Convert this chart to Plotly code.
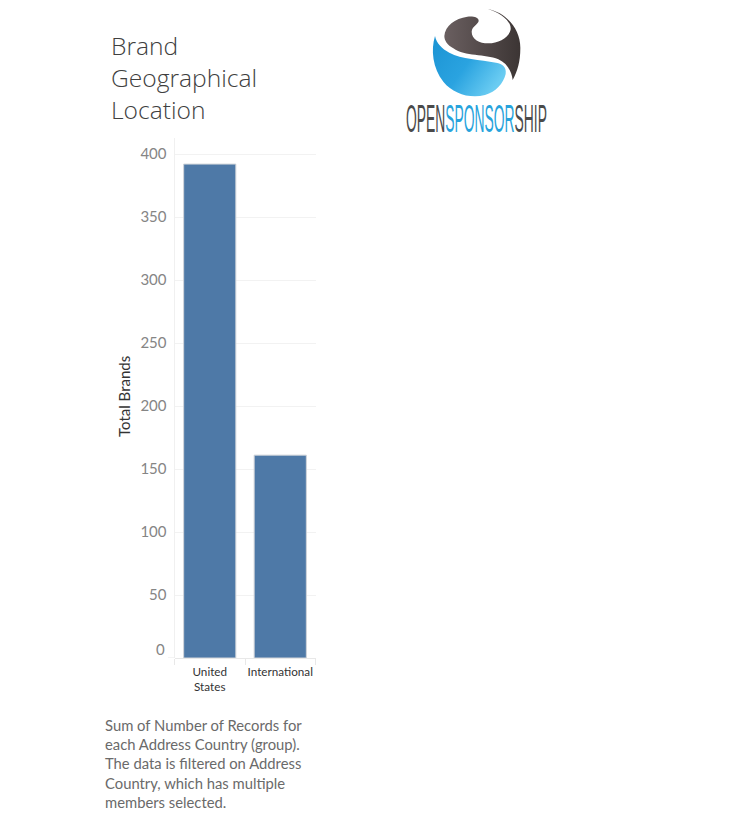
import base64
import plotly.graph_objects as go

categories = ["United<br>States", "International"]
total_brands = [392, 161]
y_ticks = [50, 100, 150, 200, 250, 300, 350, 400]
title_text = "Brand<br>Geographical<br>Location"
axis_title = "Total Brands"
caption = ("Sum of Number of Records for<br>each Address Country (group).<br>"
           "The data is filtered on Address<br>Country, which has multiple<br>members selected.")

W, H = 736, 838
FONT = "Lato, 'Open Sans', sans-serif"

logo_svg = """<svg xmlns="http://www.w3.org/2000/svg" viewBox="0 0 510 300" width="510" height="300">
<defs>
<linearGradient id="b" x1="0" y1="0" x2="1" y2="0.6"><stop offset="0" stop-color="#1b93d3"/><stop offset="0.55" stop-color="#2aa3e0"/><stop offset="1" stop-color="#6accf2"/></linearGradient>
<linearGradient id="d" x1="0" y1="0" x2="1" y2="0"><stop offset="0" stop-color="#6a5f60"/><stop offset="1" stop-color="#3c3534"/></linearGradient>
</defs>
<path fill="url(#b)" d="M135 108 C122 150 128 205 160 245 C190 282 240 296 285 285 C318 276 340 250 347 222 C350 200 338 192 318 188 C270 178 215 178 178 158 C155 146 140 130 135 108 Z"/>
<path fill="url(#d)" d="M163 108 C165 78 195 55 232 50 C250 48 266 52 266 62 C266 72 246 78 245 95 C245 118 268 130 295 130 C325 130 358 112 362 88 C364 62 330 38 293 27 C345 36 392 85 391 145 C391 185 382 215 368 240 C365 215 352 190 325 178 C285 162 225 170 190 145 C172 135 163 122 163 108 Z"/>
</svg>"""
logo_src = "data:image/svg+xml;base64," + base64.b64encode(logo_svg.encode()).decode()

fig = go.Figure(
    go.Bar(
        x=categories,
        y=total_brands,
        width=0.74,
        marker=dict(color="#4e79a7", line=dict(color="#d0d4d9", width=1)),
        hoverinfo="x+y",
    )
)

fig.update_layout(
    width=W,
    height=H,
    margin=dict(l=0, r=0, t=0, b=0, autoexpand=False),
    paper_bgcolor="white",
    plot_bgcolor="white",
    showlegend=False,
    font=dict(family=FONT, color="#666666"),
    xaxis=dict(
        domain=[174.5 / W, 315.5 / W],
        automargin=False,
        tickangle=0,
        tickson="boundaries",
        ticks="outside",
        ticklen=6,
        tickcolor="#e8e8e8",
        ticklabelstandoff=5,
        showgrid=False,
        showline=False,
        tickfont=dict(size=11.7, color="#333333", family=FONT),
    ),
    yaxis=dict(
        domain=[1 - 658 / H, 1 - 138 / H],
        automargin=False,
        range=[0, 520 / 1.26],
        tickvals=y_ticks,
        ticks="",
        ticklen=0,
        ticklabelstandoff=4,
        showgrid=True,
        gridcolor="#f2f2f2",
        gridwidth=1,
        zeroline=True,
        zerolinecolor="#e8e8e8",
        zerolinewidth=1,
        showline=True,
        linecolor="#f0f0f0",
        linewidth=1,
        tickfont=dict(size=15, color="#858585", family=FONT),
    ),
    shapes=[dict(type="line", xref="paper", yref="y", x0=168 / W, x1=174.5 / W, y0=0, y1=0,
                 line=dict(color="#e8e8e8", width=1))],
    images=[dict(source=logo_src, xref="paper", yref="paper", x=390 / W, y=1, sizex=170 / W,
                 sizey=100 / H, xanchor="left", yanchor="top", sizing="stretch", layer="above")],
    annotations=[
        dict(text="0", xref="paper", yref="y", x=166.5 / W, y=0, xanchor="right", yanchor="middle",
             yshift=9, showarrow=False, font=dict(size=15, color="#858585", family=FONT)),
        dict(text=axis_title, xref="paper", yref="paper", x=124 / W, y=1 - 397 / H, xanchor="center",
             yanchor="middle", textangle=-90, showarrow=False,
             font=dict(size=15, color="#333333", family=FONT)),
        dict(text=title_text, xref="paper", yref="paper", x=108.5 / W, y=1 - 27 / H, xanchor="left",
             yanchor="top", align="left", showarrow=False,
             font=dict(size=24.6, color="#3f3f3f", family="'Open Sans', Lato, sans-serif", weight=300)),
        dict(text=caption, xref="paper", yref="paper", x=103 / W, y=1 - 714 / H, xanchor="left",
             yanchor="top", align="left", showarrow=False,
             font=dict(size=14.8, color="#6a6a6a", family=FONT)),
        dict(text="<span style='color:#4a4a4a'>OPEN</span><span style='color:#27a3dc'>SPONSOR</span>"
                  "<span style='color:#4a4a4a'>SHIP</span>",
             xref="paper", yref="paper", x=404 / W, y=1 - 119 / H, xanchor="left", yanchor="middle",
             align="left", showarrow=False, name="wordmark",
             font=dict(size=38, family="'Liberation Sans Narrow', 'Liberation Sans', sans-serif")),
    ],
)

post = """
document.body.style.margin='0';
var squeeze=function(){
 document.querySelectorAll('.annotation-text').forEach(function(t){
  if(t.textContent.indexOf('OPENSPONSOR')<0) return;
  t.removeAttribute('transform');
  var b=t.getBBox(); var s=141/b.width;
  t.setAttribute('transform','translate('+b.x+',0) scale('+s+',1) translate('+(-b.x)+',0)');
 });
};
squeeze();
"""
fig.write_html("out.html", post_script=post, config={"displayModeBar": False})
